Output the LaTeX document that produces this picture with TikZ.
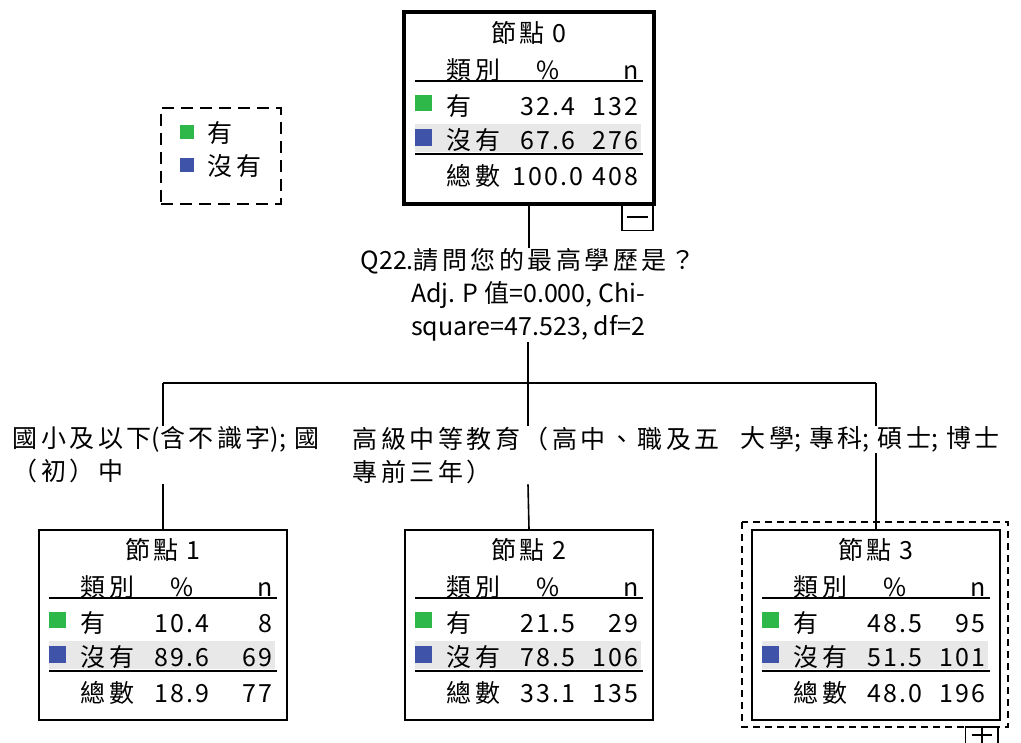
\documentclass[tikz,border=0pt]{standalone}
\usepackage{fontspec}
\setmainfont{Noto Sans CJK TC}
\newfontfamily\numfont[LetterSpace=8]{Noto Sans CJK TC}
\usepackage{tikz}

% a little air between the CJK characters
\makeatletter
\count@="4E00
\loop
  \XeTeXcharclass\count@=11
  \ifnum\count@<"9FFF \advance\count@ 1 \repeat
\makeatother
\XeTeXcharclass"FF08=11 \XeTeXcharclass"FF09=11
\XeTeXcharclass"FF1F=11 \XeTeXcharclass"3001=11
\XeTeXinterchartokenstate=1
\XeTeXinterchartoks 11 11 = {\hskip 3.5pt\relax}
\newcommand{\gap}{\hspace*{8pt}}

\definecolor{yesgreen}{RGB}{46,184,74}
\definecolor{noblue}{RGB}{63,84,168}
\definecolor{rowgray}{RGB}{232,232,232}

% one box of the tree: name, number, then % and n for 有, 沒有, 總數
\newcommand{\statbox}[8]{%
  \node[box] (#1) at (124,95) {};
  \node[txt] at (124,20) {節點\gap{}#2};
  \node[txt, anchor=west] at (41,57) {類別};
  \node[txt] at (143,57) {\%};
  \node[txt, anchor=east] at (235,57) {n};
  \draw[rule] (10,68) -- (238,68);
  \fill[yesgreen] (10,82) rectangle (27,98);
  \node[txt, anchor=west] at (41,93) {有};
  \node[txt] at (143,93) {\numfont #3};
  \node[txt, anchor=east] at (234,93) {\numfont #4};
  \fill[rowgray] (10,111) rectangle (236,139);
  \fill[noblue] (10,116) rectangle (27,133);
  \node[txt, anchor=west] at (41,127) {沒有};
  \node[txt] at (143,127) {\numfont #5};
  \node[txt, anchor=east] at (234,127) {\numfont #6};
  \draw[rule] (10,141) -- (238,141);
  \node[txt, anchor=west] at (41,163) {總數};
  \node[txt] at (143,163) {\numfont #7};
  \node[txt, anchor=east] at (234,163) {\numfont #8};
}

\begin{document}
\begin{tikzpicture}[x = 1pt, y = -1pt, line width = 1.6pt,
    txt/.style = {inner sep = 0pt, font = \fontsize{25}{28}\selectfont,
      text height = 22pt, text depth = 3pt},
    lbl/.style = {inner sep = 0pt, font = \fontsize{25}{33}\selectfont},
    box/.style = {draw, minimum width = 248pt, minimum height = 190pt, inner sep = 0pt},
    rule/.style = {line width = 1.8pt},
    tog/.style = {minimum width = 31pt, inner sep = 0pt, anchor = north east}]
\useasboundingbox (0,0) rectangle (1021,743);

% legend
\node[draw, dashed, dash pattern = on 12pt off 7pt, minimum width = 120pt,
  minimum height = 96pt, anchor = north west] (lg) at (160,107) {};
\fill[yesgreen] (180,125) rectangle (194,139);
\node[txt, anchor = west] (lg1) at (207,133) {有};
\fill[noblue] (180,158) rectangle (194,172);
\node[txt, anchor = west] (lg2) at (207,166) {沒有};

% tree boxes
\begin{scope}[shift = {(405,13)}]
  \statbox{n0}{0}{32.4}{132}{67.6}{276}{100.0}{408}
\end{scope}
\draw[line width = 4.5pt] (n0.north west) rectangle (n0.south east);
\node[tog, draw, minimum height = 26pt] (m0) at (n0.south east)
  {\rule[1pt]{21pt}{1.6pt}};

\begin{scope}[shift = {(39,530)}]
  \statbox{n1}{1}{10.4}{8}{89.6}{69}{18.9}{77}
\end{scope}
\begin{scope}[shift = {(405,530)}]
  \statbox{n2}{2}{21.5}{29}{78.5}{106}{33.1}{135}
\end{scope}
\begin{scope}[shift = {(752,530)}]
  \statbox{n3}{3}{48.5}{95}{51.5}{101}{48.0}{196}
\end{scope}
\draw[line width = 1.4pt, dashed, dash pattern = on 7pt off 5pt]
  (742,522) rectangle (1008,727);
\node[tog, minimum height = 16pt] (p3) at (998,727) {};
\draw (p3.south west) |- (p3.north east) -- (p3.south east);
\draw (p3.center) ++(-10,-1) -- ++(20,0) (p3.center) ++(0,-10) -- ++(0,18);

% split text and branch texts
\node[lbl, align = center, anchor = north] (q) at (528,248)
  {Q22.請問您的最高學歷是？\\Adj. P 值=0.000, Chi-\\square=47.523, df=2};
\node[lbl, align = left, anchor = north west] (b1) at (12,426)
  {國小及以下(含不識字);\gap{}國\\（初）中};
\node[lbl, align = left, anchor = north west] (b2) at (352,426)
  {高級中等教育（高中、職及五\\專前三年）};
\node[lbl, align = left, anchor = north west] (b3) at (740,426)
  {大學;\gap{}專科;\gap{}碩士;\gap{}博士};

% connectors
\coordinate (j) at (528,383);
\coordinate (jl) at (n1.north |- j);
\coordinate (jr) at (n3.north |- j);
\draw (n0.south) -- (q.north -| n0.south);
\draw (q.south -| j) -- (j);
\draw (jl) -- (jr);
\draw (jl) -- (jl |- b1.north);
\draw (jl |- b1.south) -- (n1.north);
\draw (j) -- (j |- b2.north);
\draw (j |- b2.south) -- (n2.north);
\draw (jr) -- (jr |- b3.north);
\draw (jr |- b3.south) -- (n3.north);
\end{tikzpicture}
\end{document}
